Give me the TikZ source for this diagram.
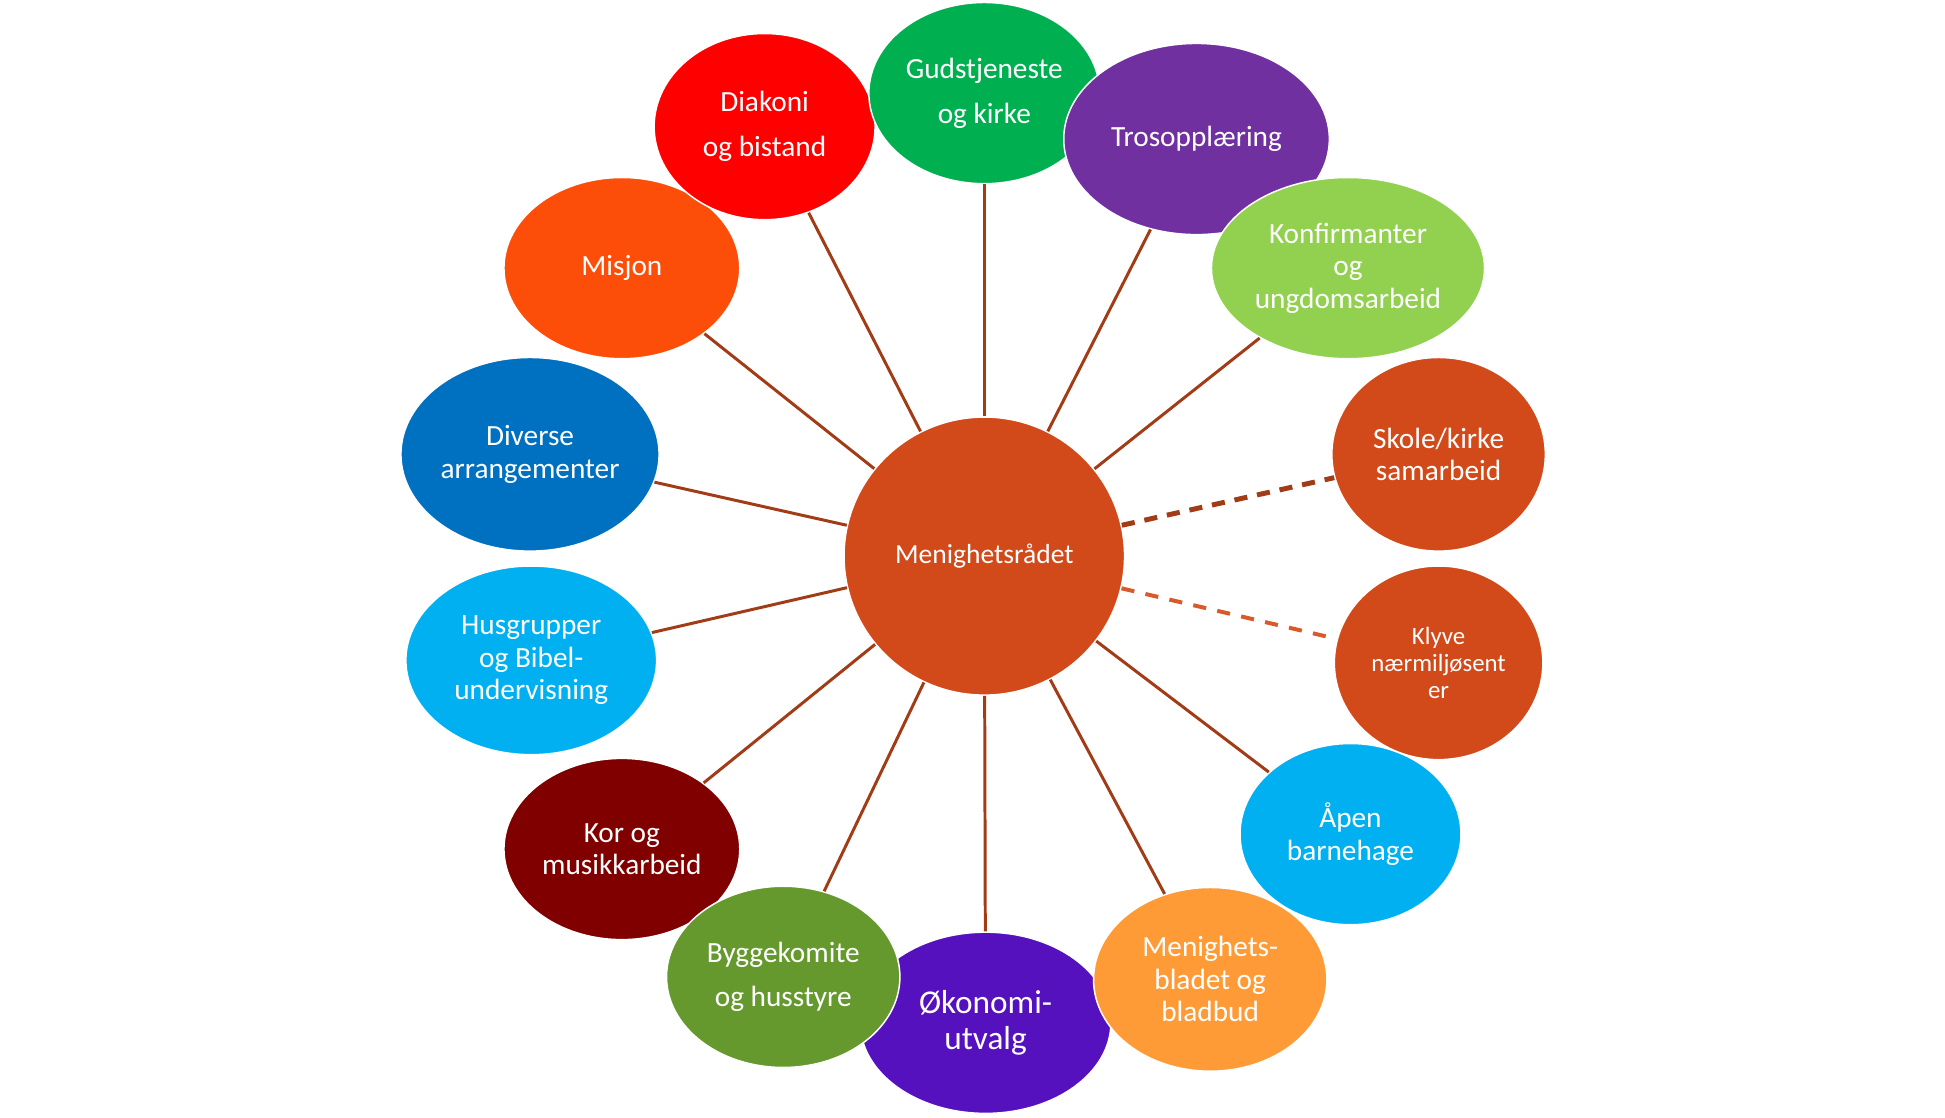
\documentclass[tikz,border=0pt]{standalone}
\usepackage{fontspec}
\setmainfont{Carlito}
\usetikzlibrary{shapes.geometric}
\definecolor{cCenter}{HTML}{D2491A}
\definecolor{cLine}{HTML}{A23C17}
\definecolor{cLineB}{HTML}{D9592B}
\definecolor{cGud}{HTML}{00B050}
\definecolor{cDiak}{HTML}{FF0000}
\definecolor{cTros}{HTML}{7030A0}
\definecolor{cKonf}{HTML}{92D050}
\definecolor{cMis}{HTML}{FC4E08}
\definecolor{cDiv}{HTML}{0070C0}
\definecolor{cHus}{HTML}{00B0F0}
\definecolor{cKor}{HTML}{800000}
\definecolor{cBygg}{HTML}{65992E}
\definecolor{cOk}{HTML}{5611BE}
\definecolor{cMenb}{HTML}{FF9B37}
\begin{document}
\begin{tikzpicture}[x=0.5pt,y=-0.5pt,
  bub/.style={ellipse, fill=#1, draw=white, line width=0.6pt, inner sep=0pt,
    text=white, align=center, font=\fontsize{11.8}{13.1}\selectfont},
  wide/.style={font=\fontsize{11.8}{18}\selectfont},
  link/.style={draw=cLine, line width=1.2pt},
  dashA/.style={draw=cLine, line width=2pt, dash pattern=on 5.3pt off 4pt},
  dashB/.style={draw=cLineB, line width=1.6pt, dash pattern=on 5.3pt off 4.6pt},
]
\useasboundingbox (0,0) rectangle (1567,900);
\node[bub=cOk, minimum width=101pt, minimum height=73pt, font=\fontsize{13.4}{14.2}\selectfont] (ok) at (794,824) {Økonomi-\\utvalg};
\node[bub=cKor, minimum width=95pt, minimum height=73pt] (kor) at (501,684) {Kor og\\musikkarbeid};
\node[bub=cMis, minimum width=95pt, minimum height=73pt] (mis) at (501,216) {Misjon};
\node[bub=cDiv, minimum width=104pt, minimum height=78pt] (div) at (427,366) {Diverse\\arrangementer};
\node[bub=cHus, minimum width=101pt, minimum height=76pt] (hus) at (428,532) {Husgrupper\\og Bibel-\\undervisning};
\node[bub=cDiak, wide, minimum width=89pt, minimum height=75pt] (diak) at (616,102) {Diakoni\\og bistand};
\node[bub=cBygg, wide, minimum width=94pt, minimum height=73pt] (bygg) at (631,787) {Byggekomite\\og husstyre};
\node[bub=cGud, wide, minimum width=93pt, minimum height=73pt] (gud) at (793,75) {Gudstjeneste\\og kirke};
\node[bub=cMenb, minimum width=94pt, minimum height=74pt] (menb) at (975,789) {Menighets-\\bladet og\\bladbud};
\node[bub=cHus, minimum width=89pt, minimum height=73pt] (apen) at (1088,672) {Åpen\\barnehage};
\node[bub=cCenter, minimum width=84pt, minimum height=78pt, font=\fontsize{10}{11}\selectfont] (klyve) at (1159,534) {Klyve\\nærmiljøsent\\er};
\node[bub=cCenter, minimum width=86pt, minimum height=78pt] (skole) at (1159,366) {Skole/kirke\\samarbeid};
\node[bub=cTros, minimum width=107pt, minimum height=77pt] (tros) at (964,112) {Trosopplæring};
\node[bub=cKonf, minimum width=110pt, minimum height=73pt] (konf) at (1086,216) {Konfirmanter\\og\\ungdomsarbeid};
\node[bub=cCenter, minimum width=113pt, minimum height=112pt, font=\fontsize{11.1}{13}\selectfont] (c) at (793,448) {Menighetsrådet};
\foreach \t in {gud,diak,tros,konf,mis,div,hus,kor,bygg,ok,menb,apen}
  \draw[link] (c) -- (\t);
\draw[dashA] (c) -- (skole);
\draw[dashB] (c) -- (klyve);
\end{tikzpicture}
\end{document}
